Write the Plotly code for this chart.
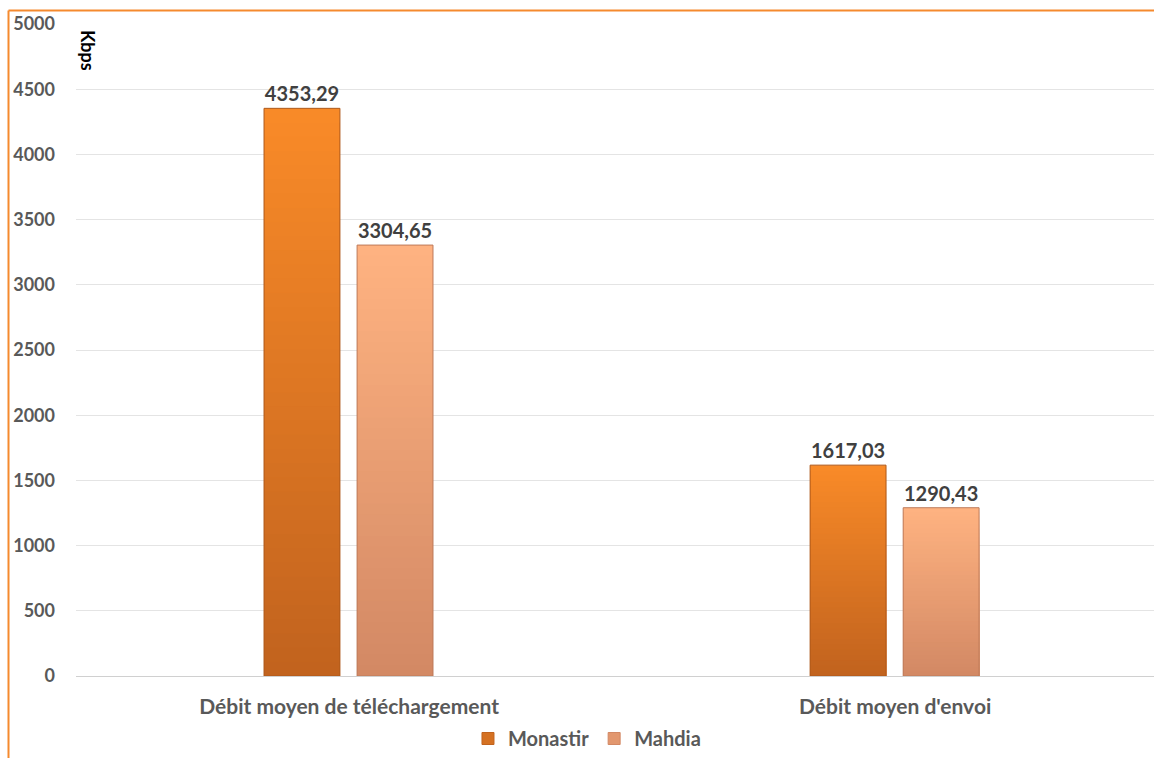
import plotly.graph_objects as go

categories = ["Débit moyen de téléchargement", "Débit moyen d'envoi"]
monastir = [4353.29, 1617.03]
mahdia = [3304.65, 1290.43]
series_names = ["Monastir", "Mahdia"]
y_ticks = [0, 500, 1000, 1500, 2000, 2500, 3000, 3500, 4000, 4500, 5000]

FONT = "Lato"
TICK_COLOR = "#595959"
LABEL_COLOR = "#404040"

# gradient colours (top, bottom) per series
grad = {
    "Monastir": ("#F98A28", "#C1631E"),
    "Mahdia": ("#FFB381", "#D28864"),
}

def hex2rgb(h):
    h = h.lstrip("#")
    return tuple(int(h[i:i + 2], 16) for i in (0, 2, 4))

def lerp(c1, c2, t):
    a, b = hex2rgb(c1), hex2rgb(c2)
    return "rgb(%d,%d,%d)" % tuple(round(a[i] + (b[i] - a[i]) * t) for i in range(3))

def fmt(v):
    return ("%.2f" % v).replace(".", ",")

BAR_W = 0.139
OFFSETS = [-0.1557, 0.0147]  # left edge of each bar relative to category center
N = 40

fig = go.Figure()
for s_idx, (name, vals) in enumerate(zip(series_names, [monastir, mahdia])):
    top, bottom = grad[name]
    # overlapping layers: full bar in top colour, then progressively shorter, darker bars
    for k in range(N):
        frac = (N - k) / N
        color = lerp(bottom, top, (N - k - 0.5) / N)
        is_top = k == 0
        fig.add_trace(go.Bar(
            x=categories,
            y=[v * frac for v in vals],
            width=BAR_W,
            offset=OFFSETS[s_idx],
            marker=dict(color=color, line=dict(width=0)),
            name=name,
            showlegend=False,
            hoverinfo="skip",
            text=[fmt(v) for v in vals] if is_top else None,
            textposition="outside" if is_top else "none",
            textfont=dict(family=FONT, size=20, color=LABEL_COLOR, weight="bold"),
            cliponaxis=False,
        ))
    # outline
    fig.add_trace(go.Bar(
        x=categories,
        y=vals,
        width=BAR_W,
        offset=OFFSETS[s_idx],
        marker=dict(color="rgba(0,0,0,0)",
                    line=dict(width=1, color=lerp(bottom, "#000000", 0.1))),
        name=name,
        showlegend=False,
        hoverinfo="skip",
    ))
    # legend entry
    fig.add_trace(go.Bar(
        x=[None], y=[None],
        marker=dict(color=lerp(bottom, top, 0.35), line=dict(width=1, color=bottom)),
        name=name,
        showlegend=True,
    ))

fig.update_layout(
    width=1154, height=758,
    barmode="overlay",
    paper_bgcolor="white",
    plot_bgcolor="white",
    margin=dict(l=76, r=0, t=24, b=80),
    font=dict(family=FONT, size=18, color=TICK_COLOR),
    showlegend=True,
    legend=dict(
        orientation="h",
        x=0.474, xanchor="center",
        y=-0.096, yanchor="middle",
        font=dict(family=FONT, size=20, color=TICK_COLOR, weight="bold"),
        itemwidth=30,
        traceorder="normal",
        bgcolor="rgba(0,0,0,0)",
    ),
    xaxis=dict(
        range=[-0.5, 1.474],
        showgrid=False,
        showline=False,
        zeroline=False,
        ticks="",
        ticklabelstandoff=16,
        tickfont=dict(family=FONT, size=21, color=TICK_COLOR, weight="bold"),
    ),
    yaxis=dict(
        range=[0, 5000],
        tickvals=y_ticks,
        showgrid=True,
        gridcolor="#E4E4E4",
        gridwidth=1,
        zeroline=True,
        zerolinecolor="#D0D0D0",
        zerolinewidth=1,
        showline=False,
        ticks="",
        ticklabelstandoff=20,
        tickfont=dict(family=FONT, size=18, color=TICK_COLOR, weight="bold"),
    ),
    annotations=[dict(
        text="Kbps",
        xref="paper", yref="paper",
        x=(88 - 76) / 1078, y=(678 - 50) / 654,
        xanchor="center", yanchor="middle",
        textangle=90,
        showarrow=False,
        font=dict(family=FONT, size=18, color="#000000", weight="bold"),
    )],
    shapes=[
        dict(type="line", xref="paper", yref="paper",
             x0=(8.5 - 76) / 1078, x1=1.2, y0=(678 - 10.5) / 654, y1=(678 - 10.5) / 654,
             line=dict(color="#F58A2E", width=2)),
        dict(type="line", xref="paper", yref="paper",
             x0=(8.5 - 76) / 1078, x1=(8.5 - 76) / 1078,
             y0=(678 - 10.5) / 654, y1=-0.2,
             line=dict(color="#F58A2E", width=2)),
    ],
)

fig.write_html(
    "out.html",
    config={"displayModeBar": False},
    post_script="document.body.style.margin='0';document.body.style.overflow='hidden';",
)
